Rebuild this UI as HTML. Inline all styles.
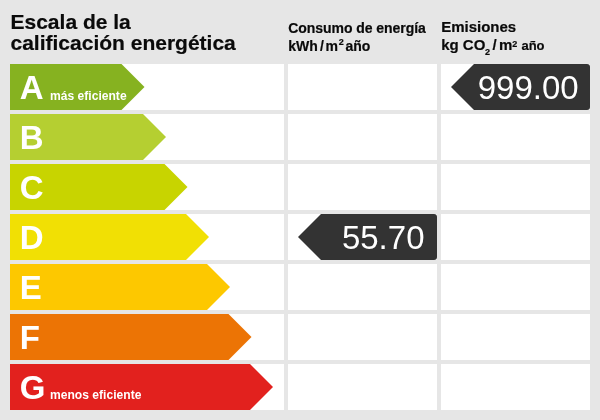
<!DOCTYPE html>
<html lang="es">
<head>
<meta charset="utf-8">
<title>Escala de la calificación energética</title>
<style>
html,body{margin:0;padding:0;}
body{width:600px;height:420px;background:#e6e6e6;position:relative;overflow:hidden;font-family:"Liberation Sans",sans-serif;color:#0a0a0a;}
#bg{position:absolute;left:0;top:0;}
.t{position:absolute;white-space:nowrap;line-height:1;}
.h1{left:10.5px;top:10.5px;font-size:21px;font-weight:bold;line-height:21.5px;}
.h2{left:288.3px;top:19px;font-size:14px;font-weight:bold;line-height:18px;}
.h2 .l1{letter-spacing:-0.06px;}
.h1,.h2,.h3{-webkit-text-stroke:0.2px #0a0a0a;}
.h3{left:441.2px;top:17.7px;font-size:15px;font-weight:bold;line-height:18.7px;}
.h2 sup{font-size:9px;line-height:0;vertical-align:baseline;position:relative;top:-6px;margin-left:0.8px;}
.h3 sup{font-size:9px;line-height:0;vertical-align:baseline;position:relative;top:-3.2px;}
.h3 sub{font-size:9px;line-height:0;vertical-align:baseline;position:relative;top:5px;left:-0.5px;}
.ns{word-spacing:-2px;}
.h3 .a{font-size:13px;}
.L{left:19.8px;font-size:33px;font-weight:bold;color:#fff;}
.s{font-size:13px;font-weight:bold;color:#fff;transform:scaleX(0.93);transform-origin:0 0;}
.v{font-size:33px;color:#fff;text-align:right;}
</style>
</head>
<body>
<svg id="bg" width="600" height="420" viewBox="0 0 600 420">
<g fill="#fff">
<rect x="10" y="64" width="274" height="46"/><rect x="288" y="64" width="149" height="46"/><rect x="441" y="64" width="149" height="46"/>
<rect x="10" y="114" width="274" height="46"/><rect x="288" y="114" width="149" height="46"/><rect x="441" y="114" width="149" height="46"/>
<rect x="10" y="164" width="274" height="46"/><rect x="288" y="164" width="149" height="46"/><rect x="441" y="164" width="149" height="46"/>
<rect x="10" y="214" width="274" height="46"/><rect x="288" y="214" width="149" height="46"/><rect x="441" y="214" width="149" height="46"/>
<rect x="10" y="264" width="274" height="46"/><rect x="288" y="264" width="149" height="46"/><rect x="441" y="264" width="149" height="46"/>
<rect x="10" y="314" width="274" height="46"/><rect x="288" y="314" width="149" height="46"/><rect x="441" y="314" width="149" height="46"/>
<rect x="10" y="364" width="274" height="46"/><rect x="288" y="364" width="149" height="46"/><rect x="441" y="364" width="149" height="46"/>
</g>
<polygon fill="#86b220" points="10,64 121.5,64 144.5,87 121.5,110 10,110"/>
<polygon fill="#b5cf31" points="10,114 143,114 166,137 143,160 10,160"/>
<polygon fill="#c8d400" points="10,164 164.5,164 187.5,187 164.5,210 10,210"/>
<polygon fill="#f1e004" points="10,214 186,214 209,237 186,260 10,260"/>
<polygon fill="#fdc800" points="10,264 207,264 230,287 207,310 10,310"/>
<polygon fill="#ec7405" points="10,314 228.5,314 251.5,337 228.5,360 10,360"/>
<polygon fill="#e2211e" points="10,364 250,364 273,387 250,410 10,410"/>
<path fill="#333" d="M451,87 L474,64 H587 Q590,64 590,67 V107 Q590,110 587,110 H474 Z"/>
<path fill="#333" d="M298,237 L321,214 H434 Q437,214 437,217 V257 Q437,260 434,260 H321 Z"/>
</svg>
<div class="t h1">Escala de la<br>calificación energética</div>
<div class="t h2"><span class="l1">Consumo de energía</span><br>kWh<span style="word-spacing:-1.75px"> </span>/<span style="word-spacing:-2.4px"> </span>m<sup>2</sup><span style="word-spacing:-2.1px"> </span>año</div>
<div class="t h3">Emisiones<br>kg CO<sub>2</sub><span class="ns"> / </span>m<sup>2</sup> <span class="a">año</span></div>

<div class="t L" style="top:71px">A</div>
<div class="t s" style="left:49.6px;top:88.8px">más eficiente</div>
<div class="t L" style="top:121px">B</div>
<div class="t L" style="top:171px">C</div>
<div class="t L" style="top:221px">D</div>
<div class="t L" style="top:271px">E</div>
<div class="t L" style="top:321px">F</div>
<div class="t L" style="top:371px">G</div>
<div class="t s" style="left:49.6px;top:387.8px">menos eficiente</div>

<div class="t v" style="left:451px;width:127.7px;top:70.5px">999.00</div>
<div class="t v" style="left:298px;width:126.5px;top:220.5px">55.70</div>
</body>
</html>
